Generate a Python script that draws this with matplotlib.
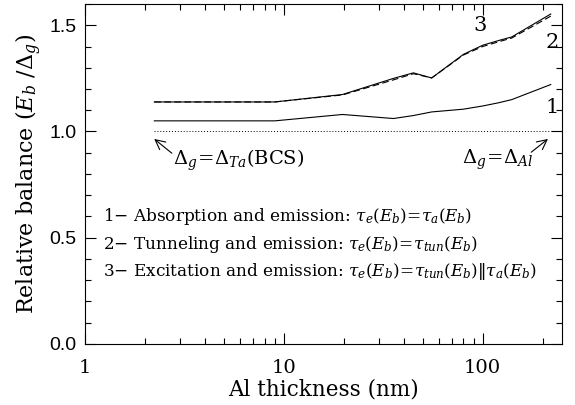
import numpy as np
import matplotlib
matplotlib.use("Agg")
import matplotlib.pyplot as plt
from matplotlib.ticker import MultipleLocator, LogLocator, NullFormatter, FixedLocator, FixedFormatter

# ---- data ----
thickness = [2.23, 9.0, 19.7, 35.6, 44.8, 55.4, 80.0, 100.0, 120.0, 140.0, 220.0]
curve1 = [1.050, 1.050, 1.080, 1.061, 1.075, 1.092, 1.105, 1.120, 1.135, 1.150, 1.221]
curve2 = [1.139, 1.139, 1.172, 1.243, 1.272, 1.252, 1.360, 1.400, 1.422, 1.440, 1.543]
curve3 = [1.139, 1.139, 1.174, 1.250, 1.276, 1.252, 1.363, 1.406, 1.428, 1.445, 1.553]
ref_x = [2.23, 220.0]
ref_y = [1.0, 1.0]

x_ticks = [1, 10, 100]
x_labels = ["1", "10", "100"]
y_ticks = [0.0, 0.5, 1.0, 1.5]
y_labels = ["0.0", "0.5", "1.0", "1.5"]

legend_lines = [
    r"1$-$ Absorption and emission: $\tau_e(E_b)\!=\!\tau_a(E_b)$",
    r"2$-$ Tunneling and emission: $\tau_e(E_b)\!=\!\tau_{tun}(E_b)$",
    r"3$-$ Excitation and emission: $\tau_e(E_b)\!=\!\tau_{tun}(E_b)\Vert\tau_a(E_b)$",
]

plt.rcParams["mathtext.fontset"] = "dejavuserif"
serif = "DejaVu Serif"

fig = plt.figure(figsize=(5.75, 4.05), dpi=100)
ax = fig.add_axes([0.148, 0.151, 0.829, 0.839])

ax.plot(thickness, curve1, color="black", lw=0.8)
ax.plot(thickness, curve2, color="black", lw=0.8, ls=(0, (6, 3)))
ax.plot(thickness, curve3, color="black", lw=0.8)
ax.plot(ref_x, ref_y, color="black", lw=0.7, ls=(0, (1, 2)))

ax.set_xscale("log")
ax.set_xlim(1, 250)
ax.set_ylim(0, 1.6)

ax.xaxis.set_major_locator(FixedLocator(x_ticks))
ax.xaxis.set_major_formatter(FixedFormatter(x_labels))
ax.xaxis.set_minor_locator(LogLocator(base=10, subs=np.arange(2, 10)))
ax.xaxis.set_minor_formatter(NullFormatter())
ax.yaxis.set_major_locator(FixedLocator(y_ticks))
ax.yaxis.set_major_formatter(FixedFormatter(y_labels))
ax.yaxis.set_minor_locator(MultipleLocator(0.1))

ax.tick_params(which="both", direction="in", top=True, right=True, width=0.8)
ax.tick_params(which="major", length=8)
ax.tick_params(which="minor", length=4)
ax.tick_params(axis="y", labelsize=14, pad=6)
ax.tick_params(axis="x", labelsize=14, pad=11)
for lab in ax.get_xticklabels():
    lab.set_fontfamily(serif)
for lab in ax.get_yticklabels():
    lab.set_fontfamily("Liberation Sans")
for sp in ax.spines.values():
    sp.set_linewidth(0.8)

ax.set_xlabel("Al thickness (nm)", fontsize=15.5, family=serif, labelpad=1)
ax.set_ylabel(r"Relative balance ($E_b$ /$\Delta_g$)", fontsize=16, family=serif, labelpad=4)

# curve numbers
ax.text(97, 1.50, "3", fontsize=15, family=serif, ha="center", va="center")
ax.text(224, 1.418, "2", fontsize=15, family=serif, ha="center", va="center")
ax.text(224, 1.115, "1", fontsize=15, family=serif, ha="center", va="center")

# gap annotations
arrow = dict(arrowstyle="->,head_length=0.5,head_width=0.25", color="black", lw=0.8,
             shrinkA=0, shrinkB=0, mutation_scale=14)
ax.annotate("", xy=(0.145, 0.603), xytext=(0.182, 0.561),
            xycoords="axes fraction", textcoords="axes fraction", arrowprops=arrow)
ax.text(0.184, 0.541, r"$\Delta_g\!=\!\Delta_{Ta}$(BCS)", transform=ax.transAxes,
        fontsize=14, family=serif, ha="left", va="center")
ax.annotate("", xy=(0.971, 0.603), xytext=(0.936, 0.564),
            xycoords="axes fraction", textcoords="axes fraction", arrowprops=arrow)
ax.text(0.939, 0.541, r"$\Delta_g\!=\!\Delta_{Al}$", transform=ax.transAxes,
        fontsize=14, family=serif, ha="right", va="center")

# legend text
for ty, line in zip([0.374, 0.291, 0.213], legend_lines):
    ax.text(0.037, ty, line, transform=ax.transAxes, fontsize=12.2,
            family=serif, ha="left", va="center")

fig.savefig("out.png", dpi=100)
